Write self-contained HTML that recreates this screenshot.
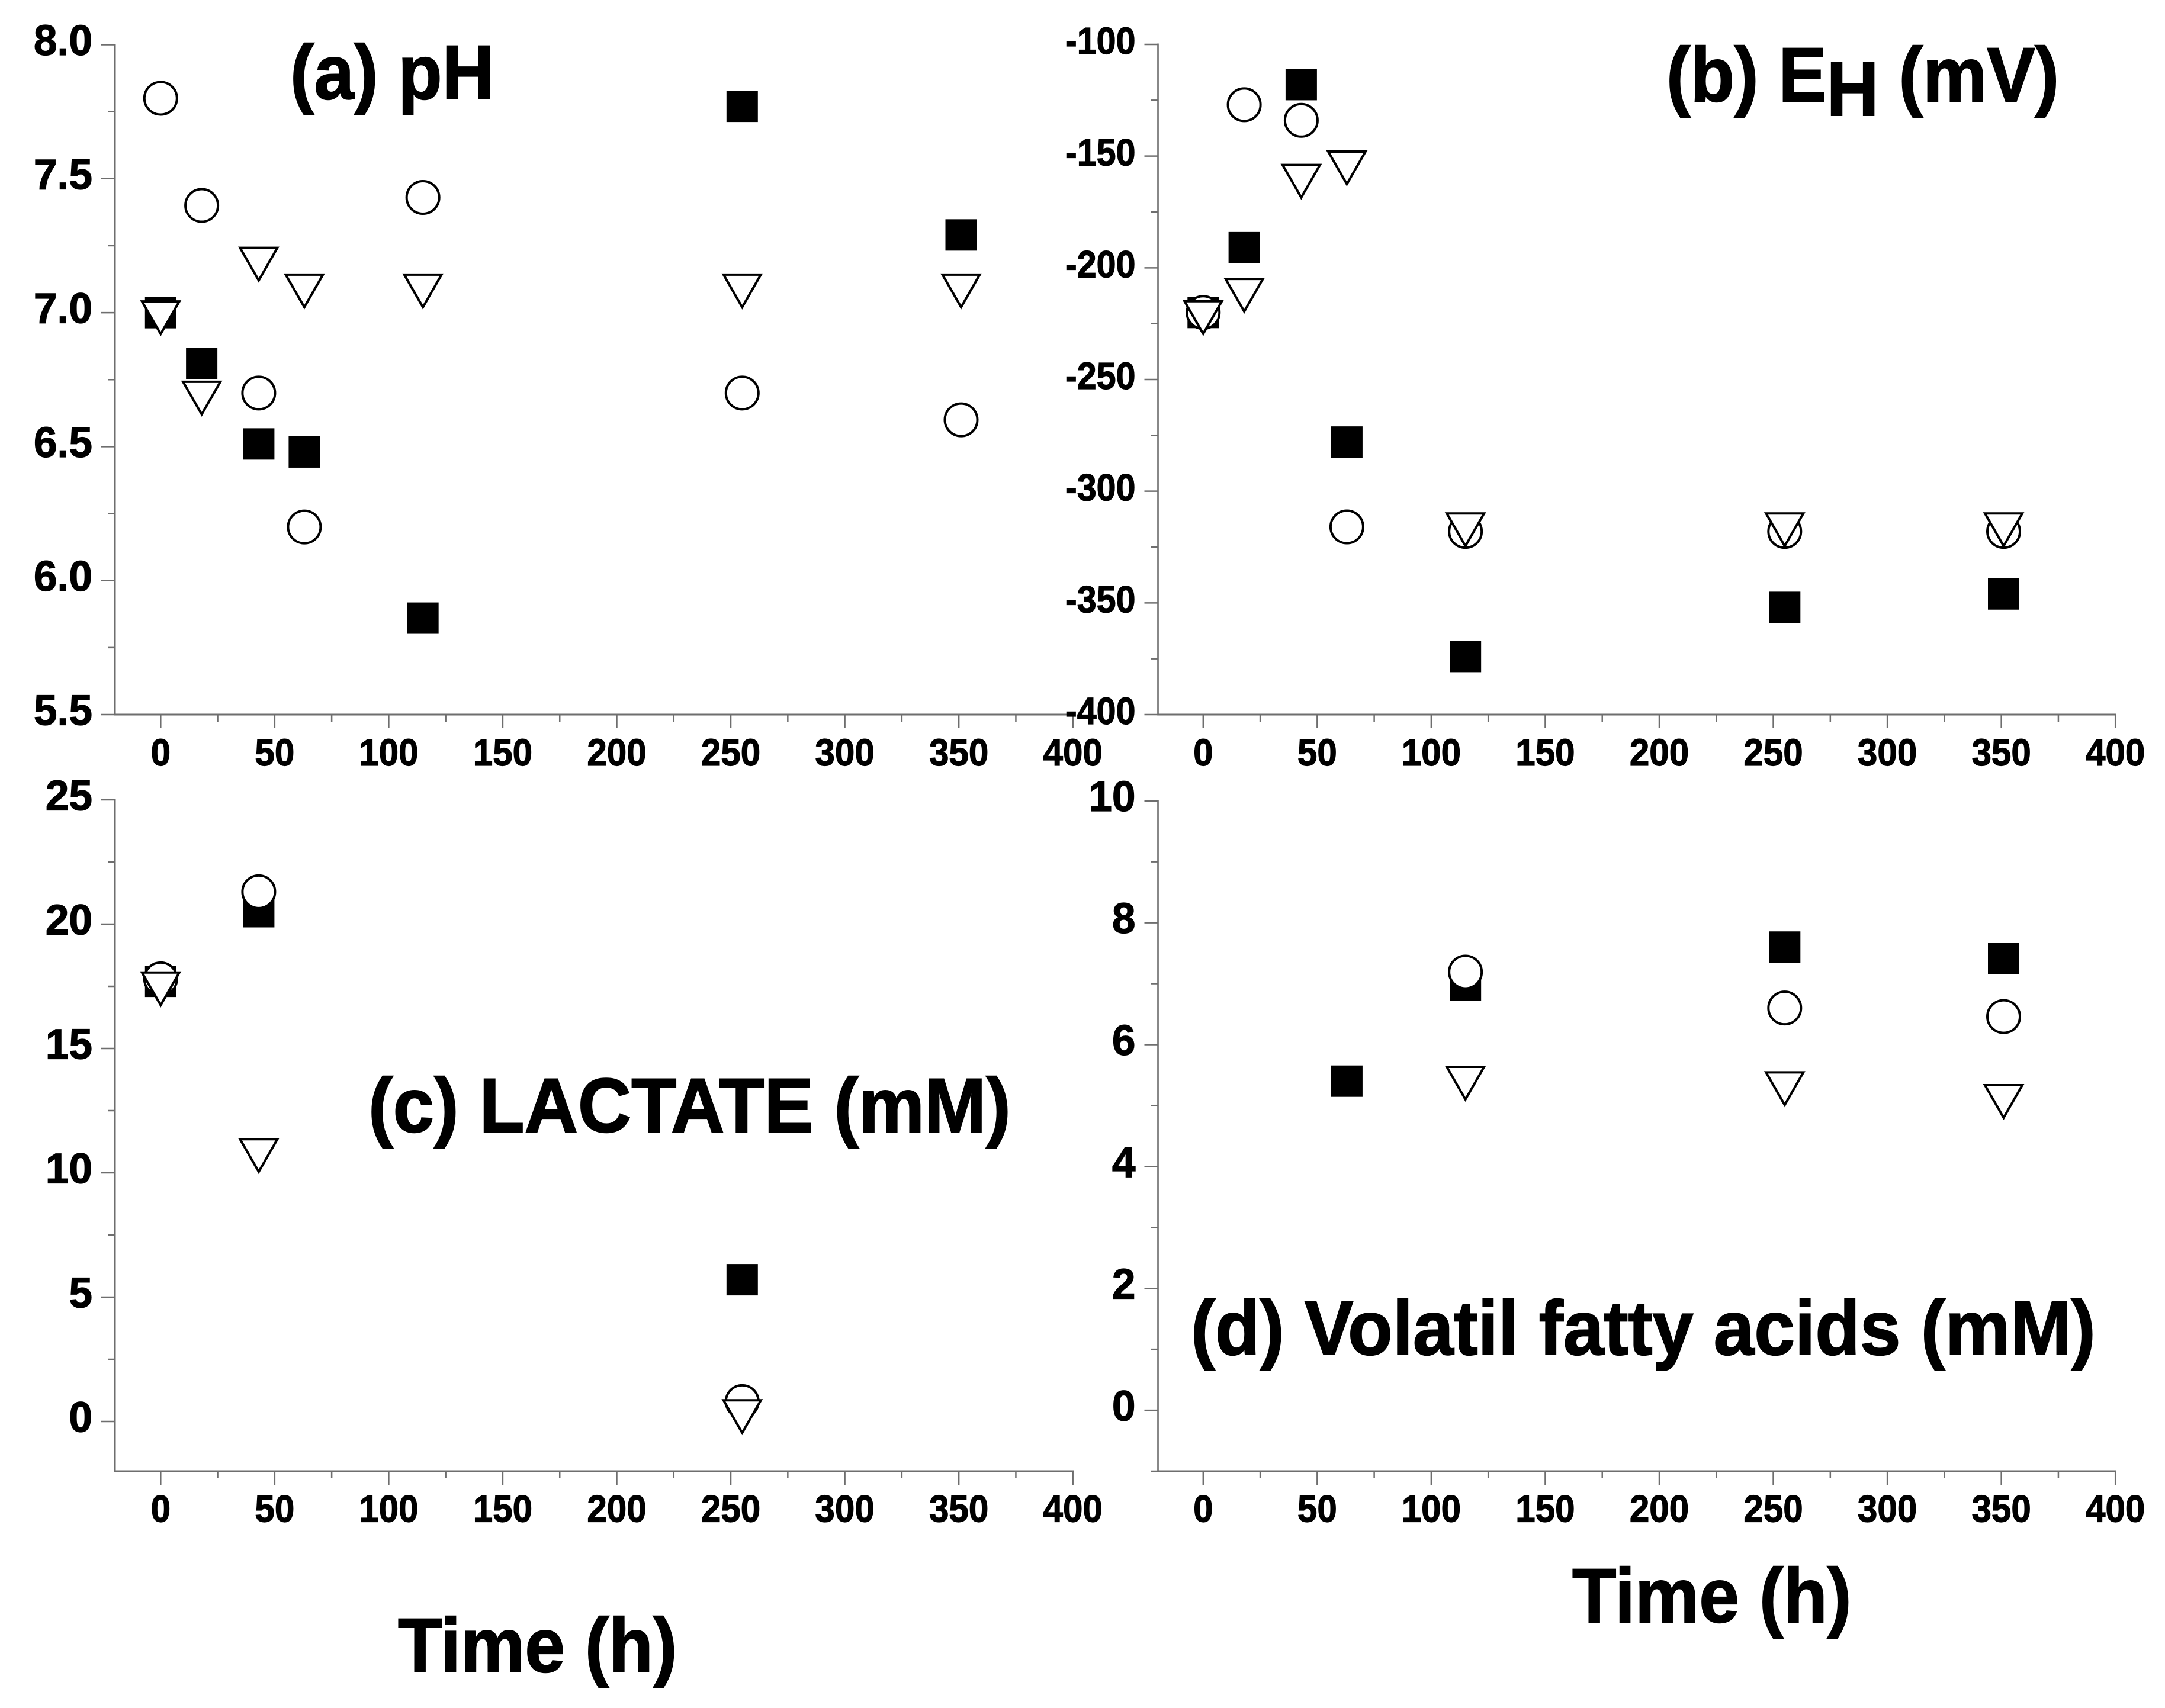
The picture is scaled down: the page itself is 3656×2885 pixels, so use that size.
<!DOCTYPE html>
<html lang="en">
<head>
<meta charset="utf-8">
<title>Fermentation time course panels</title>
<style>
  html, body { margin: 0; padding: 0; background: #fff; }
  svg { display: block; }
  text { font-family: "Liberation Sans", Arial, sans-serif; font-weight: 700; fill: #000; stroke: #000; stroke-width: 1.2; }
  text.title { stroke-width: 2; }
</style>
</head>
<body>
<svg id="figure" xmlns="http://www.w3.org/2000/svg" width="3656" height="2885" viewBox="0 0 3656 2885">
  <rect x="0" y="0" width="3656" height="2885" fill="#fff"/>
  <g id="panels"></g>
  <text class="title" font-size="130" transform="translate(490,167) scale(0.935,1)">(a) pH</text>
  <text class="title" font-size="130" transform="translate(2814,171) scale(0.937,1)">(b) E<tspan dy="24">H</tspan><tspan dy="-24"> (mV)</tspan></text>
  <text class="title" font-size="130" transform="translate(622,1912) scale(0.961,1)">(c) LACTATE (mM)</text>
  <text class="title" font-size="130" transform="translate(2011,2288) scale(0.95,1)">(d) Volatil fatty acids (mM)</text>
  <text class="title" font-size="130" transform="translate(672,2824) scale(0.937,1)">Time (h)</text>
  <text class="title" font-size="130" transform="translate(2655,2740) scale(0.937,1)">Time (h)</text>
</svg>
<script>
// Shared x-axis tick labels
const xTickLabels = ["0", "50", "100", "150", "200", "250", "300", "350", "400"];

// Panel (a) pH
const timesA = [0, 18, 43, 63, 115, 255, 351];
const squaresA = [7.0, 6.81, 6.51, 6.48, 5.86, 7.77, 7.29];
const circlesA = [7.8, 7.4, 6.7, 6.2, 7.43, 6.7, 6.6];
const trianglesA = [7.0, 6.7, 7.2, 7.1, 7.1, 7.1, 7.1];
const yTicksA = ["8.0", "7.5", "7.0", "6.5", "6.0", "5.5"];

// Panel (b) EH
const timesB = [0, 18, 43, 63, 115, 255, 351];
const squaresB = [-220, -191, -118, -278, -374, -352, -346];
const circlesB = [-220, -127, -134, -316, -318, -318, -318];
const trianglesB = [-220, -210, -159, -153, -315, -315, -315];
const yTicksB = ["-100", "-150", "-200", "-250", "-300", "-350", "-400"];

// Panel (c) lactate
const timesC = [0, 43, 255];
const squaresC = [17.7, 20.5, 5.7];
const circlesC = [17.8, 21.3, 0.8];
const trianglesC = [17.6, 10.9, 0.4];
const yTicksC = ["25", "20", "15", "10", "5", "0"];

// Panel (d) volatile fatty acids
const timesD = [63, 115, 255, 351];
const squaresD = [5.4, 6.98, 7.6, 7.41];
const circlesD = [null, 7.19, 6.6, 6.46];
const trianglesD = [null, 5.45, 5.36, 5.15];
const yTicksD = ["10", "8", "6", "4", "2", "0"];

const SVG_NS = "http://www.w3.org/2000/svg";
const AXIS_COLOR = "#6e6e6e";

function drawLine(parent, x1, y1, x2, y2, width, color, name) {
  const el = document.createElementNS(SVG_NS, "line");
  
  
  el.setAttribute("x1", x1);
  el.setAttribute("y1", y1);
  el.setAttribute("x2", x2);
  el.setAttribute("y2", y2);
  el.setAttribute("stroke", color);
  el.setAttribute("stroke-width", width);
  parent.appendChild(el);
}

function drawLabel(parent, x, y, str, size, sx, anchor, name) {
  const el = document.createElementNS(SVG_NS, "text");
  
  
  el.setAttribute("font-size", size);
  el.setAttribute("text-anchor", anchor);
  el.setAttribute("transform", "translate(" + x + "," + y + ") scale(" + sx + ",1)");
  el.textContent = str;
  parent.appendChild(el);
}

function drawSquare(parent, cx, cy, name) {
  const el = document.createElementNS(SVG_NS, "rect");
  
  
  el.setAttribute("x", cx - 26.5);
  el.setAttribute("y", cy - 26.5);
  el.setAttribute("width", 53);
  el.setAttribute("height", 53);
  el.setAttribute("fill", "#000");
  parent.appendChild(el);
}

function drawCircle(parent, cx, cy, name) {
  const el = document.createElementNS(SVG_NS, "circle");
  
  
  el.setAttribute("cx", cx);
  el.setAttribute("cy", cy);
  el.setAttribute("r", 27.5);
  el.setAttribute("fill", "#fff");
  el.setAttribute("stroke", "#000");
  el.setAttribute("stroke-width", 4);
  parent.appendChild(el);
}

function drawTriangle(parent, cx, cy, name) {
  const el = document.createElementNS(SVG_NS, "polygon");
  
  
  const pts = [[cx - 31.5, cy - 19], [cx + 31.5, cy - 19], [cx, cy + 36]];
  el.setAttribute("points", pts.map(function (p) { return p.join(","); }).join(" "));
  el.setAttribute("fill", "#fff");
  el.setAttribute("stroke", "#000");
  el.setAttribute("stroke-width", 4);
  parent.appendChild(el);
}

function drawPanel(id, times, squares, circles, triangles, yLabels, frame) {
  const g = document.createElementNS(SVG_NS, "g");
  
  
  document.getElementById("panels").appendChild(g);

  const xScale = function (t) { return frame.x0 + t * frame.xUnit; };
  const yScale = function (v) {
    return frame.top + (frame.yMax - v) * (frame.bottom - frame.top) / (frame.yMax - frame.yMin);
  };

  // axis lines
  drawLine(g, frame.left, frame.top - 1.5, frame.left, frame.bottom + 1.5, frame.yAxisWidth, frame.yAxisColor, 'y-axis-' + id);
  drawLine(g, frame.left, frame.bottom, xScale(400) + 1.5, frame.bottom, 3, AXIS_COLOR, 'x-axis-' + id);

  // x ticks
  xTickLabels.forEach(function (lab) {
    const v = parseFloat(lab);
    const px = xScale(v);
    drawLine(g, px, frame.bottom, px, frame.bottom + 23, 2.5, AXIS_COLOR, 'x-tick-' + id);
    drawLabel(g, px, frame.xLabelY, lab, 64, 0.94, "middle", 'x-tick-label-' + id);
    if (v < 400) {
      const mid = xScale(v + 25);
      drawLine(g, mid, frame.bottom, mid, frame.bottom + 12, 2.5, AXIS_COLOR, 'x-minor-tick-' + id);
    }
  });

  // y ticks
  const yVals = yLabels.map(parseFloat);
  const step = Math.abs(yVals[0] - yVals[1]);
  yLabels.forEach(function (lab, i) {
    const py = yScale(yVals[i]);
    drawLine(g, frame.left - 23, py, frame.left, py, 2.5, AXIS_COLOR, 'y-tick-' + id);
    drawLabel(g, frame.left - 38, py + frame.yLabelDrop, lab, frame.yFont, frame.yStretch, "end", 'y-tick-label-' + id);
  });
  for (let v = yVals[0] - step / 2; v >= frame.yMin - 1e-6; v -= step) {
    const py = yScale(v);
    drawLine(g, frame.left - 12, py, frame.left, py, 2.5, AXIS_COLOR, 'y-minor-tick-' + id);
  }

  // markers
  times.forEach(function (t, i) {
    if (squares[i] !== null) {
      drawSquare(g, xScale(t), yScale(squares[i]), 'square-point-' + id);
    }
  });
  times.forEach(function (t, i) {
    if (circles[i] !== null) {
      drawCircle(g, xScale(t), yScale(circles[i]), 'circle-point-' + id);
    }
  });
  times.forEach(function (t, i) {
    if (triangles[i] !== null) {
      drawTriangle(g, xScale(t), yScale(triangles[i]), 'triangle-point-' + id);
    }
  });
}

drawPanel("a", timesA, squaresA, circlesA, trianglesA, yTicksA, {
  left: 194, x0: 271.3, xUnit: 3.851, top: 75.5, bottom: 1207, yMax: 8, yMin: 5.5,
  xLabelY: 1293, yFont: 72, yStretch: 0.99, yLabelDrop: 17.5, yAxisWidth: 3, yAxisColor: "#6e6e6e"
});
drawPanel("b", timesB, squaresB, circlesB, trianglesB, yTicksB, {
  left: 1955.5, x0: 2031.8, xUnit: 3.851, top: 75, bottom: 1207, yMax: -100, yMin: -400,
  xLabelY: 1293, yFont: 64, yStretch: 0.925, yLabelDrop: 16, yAxisWidth: 4, yAxisColor: "#888888"
});
drawPanel("c", timesC, squaresC, circlesC, trianglesC, yTicksC, {
  left: 194, x0: 271.3, xUnit: 3.851, top: 1351, bottom: 2485, yMax: 25, yMin: -2,
  xLabelY: 2570.7, yFont: 72, yStretch: 0.99, yLabelDrop: 17.5, yAxisWidth: 3, yAxisColor: "#6e6e6e"
});
drawPanel("d", timesD, squaresD, circlesD, trianglesD, yTicksD, {
  left: 1955.5, x0: 2031.8, xUnit: 3.851, top: 1352.7, bottom: 2485, yMax: 10, yMin: -1,
  xLabelY: 2570.7, yFont: 72, yStretch: 0.99, yLabelDrop: 17.5, yAxisWidth: 4, yAxisColor: "#888888"
});
</script>
</body>
</html>
